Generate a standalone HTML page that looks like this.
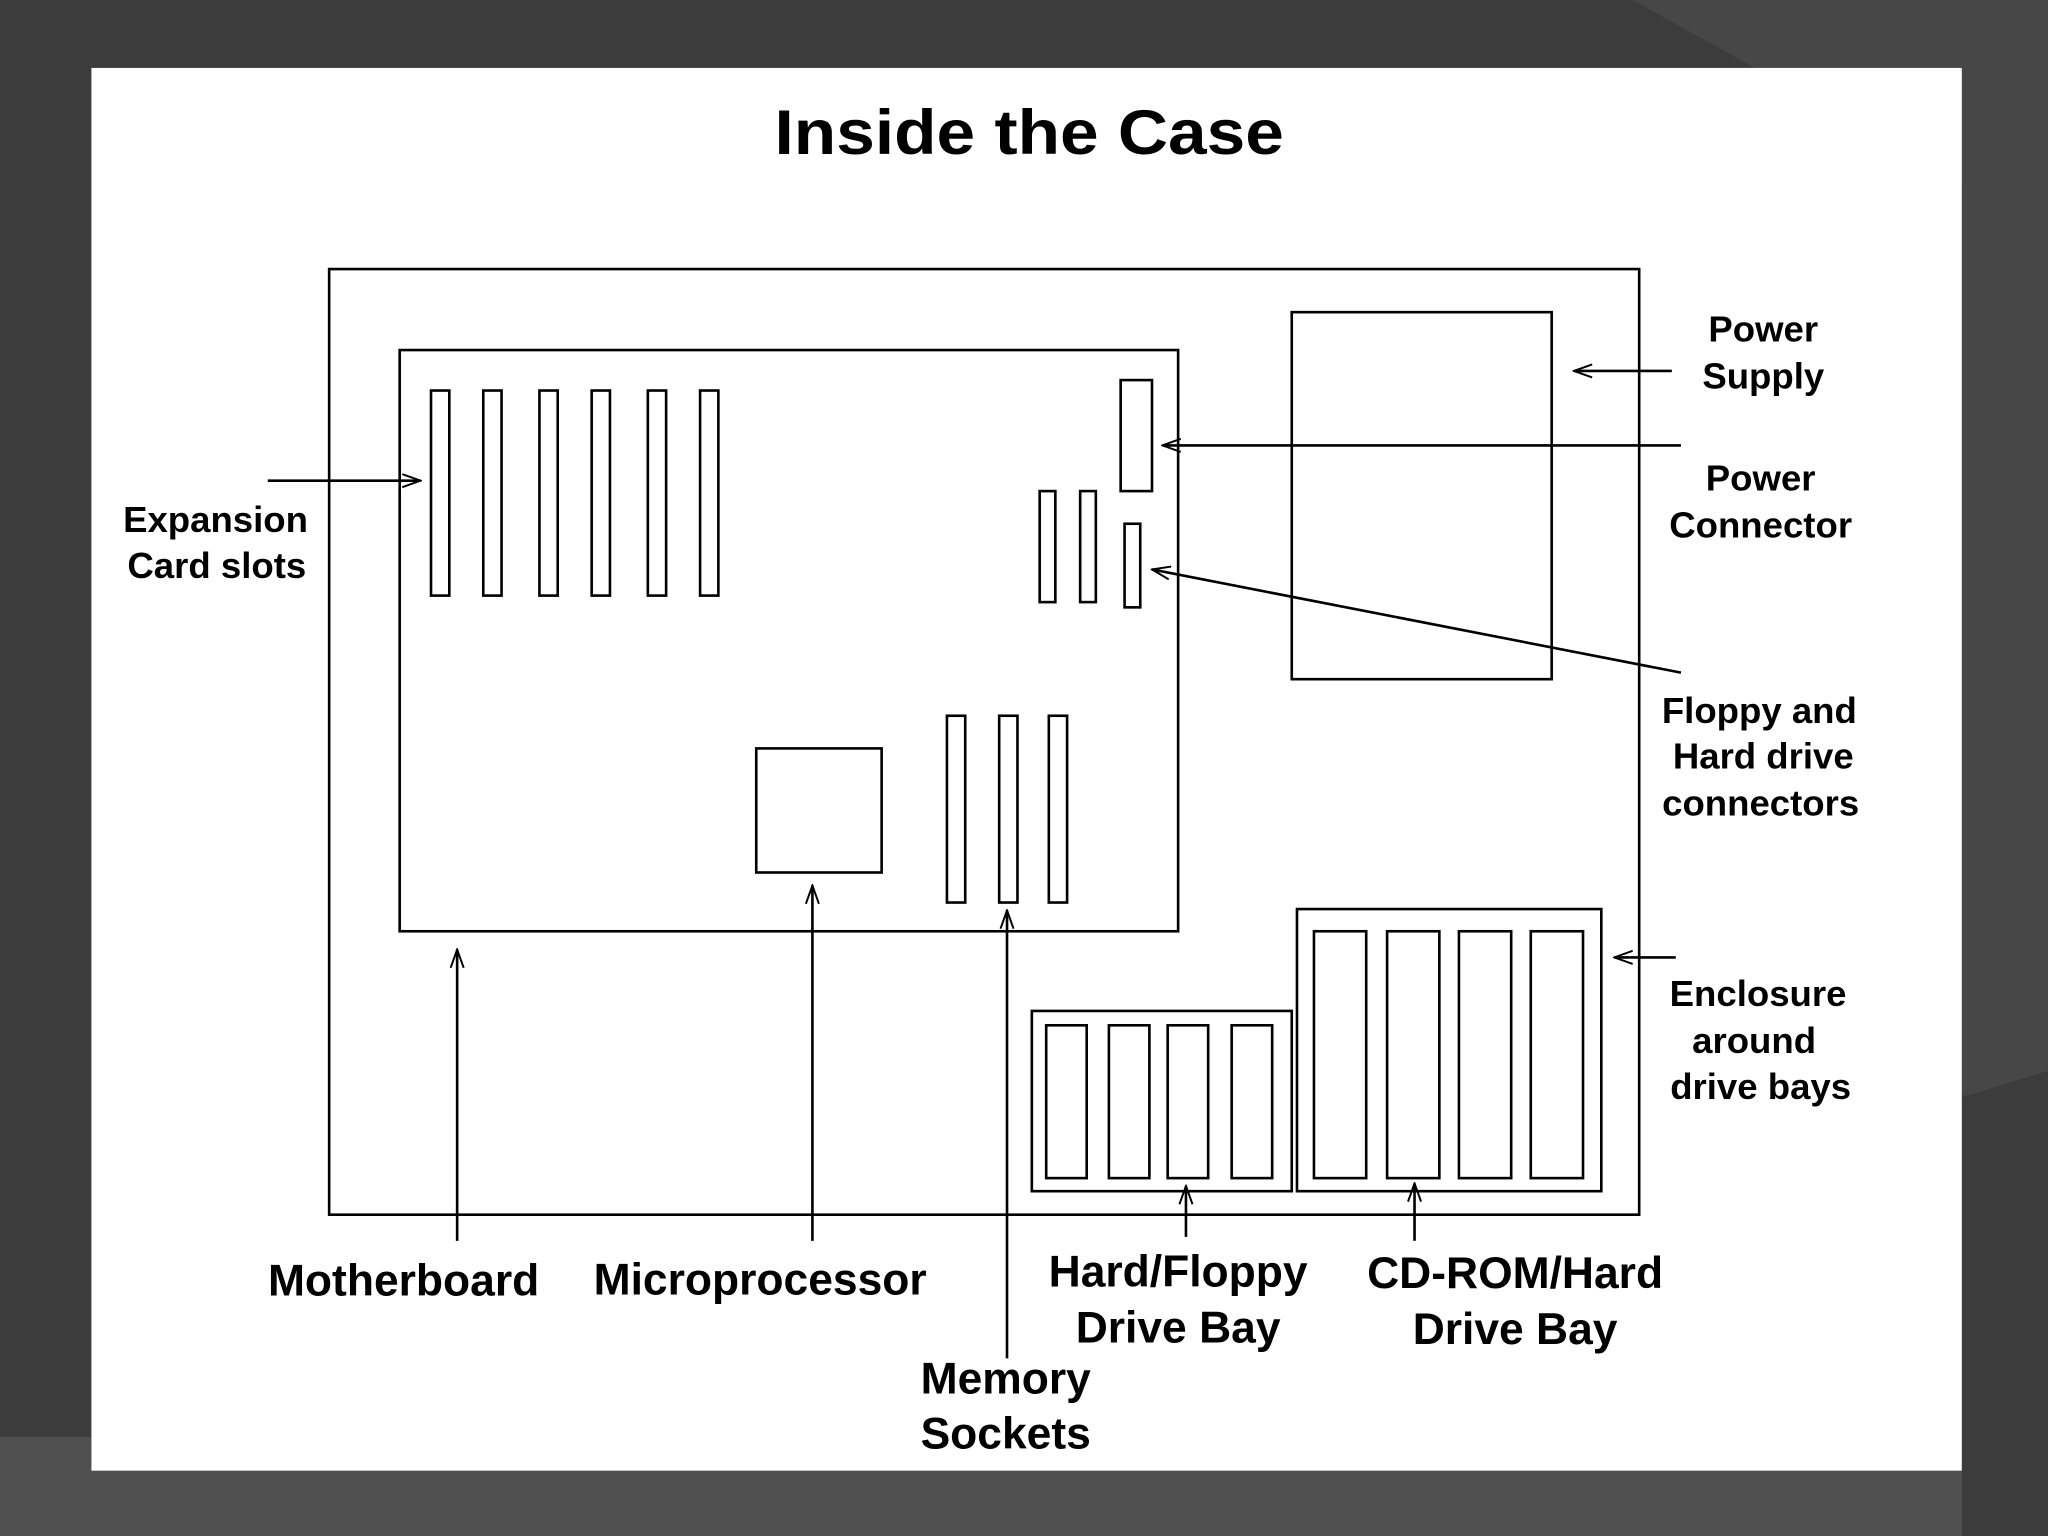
<!DOCTYPE html>
<html><head><meta charset="utf-8"><style>
html,body{margin:0;padding:0;background:#3b3b3b;}
svg{display:block;}
text{font-family:"Liberation Sans",Arial,sans-serif;font-weight:bold;fill:#000;}
</style></head><body>
<svg width="2048" height="1536" viewBox="0 0 1568 1176" preserveAspectRatio="none" xmlns="http://www.w3.org/2000/svg">
<defs>
<marker id="a" markerWidth="16" markerHeight="12" refX="15" refY="6" orient="auto" markerUnits="userSpaceOnUse">
<path d="M1,1 L15,6 L1,11" fill="none" stroke="#000" stroke-width="1.5"/>
</marker>
</defs>
<rect width="1568" height="1176" fill="#3c3c3c"/>
<polygon points="1250,0 1568,0 1568,820 1502,840 1502,140" fill="#474747"/>
<polygon points="0,1100 70,1100 70,1126 1502,1126 1502,1176 0,1176" fill="#505050"/>
<rect x="70" y="52" width="1432" height="1074" fill="#fff"/>
<text x="788" y="118" font-size="48" text-anchor="middle" textLength="390" lengthAdjust="spacingAndGlyphs">Inside the Case</text>
<g fill="none" stroke="#000" stroke-width="2">
<rect x="252" y="206" width="1003" height="724"/>
<rect x="306" y="268" width="596" height="445"/>
<rect x="330" y="299" width="14" height="157"/>
<rect x="370" y="299" width="14" height="157"/>
<rect x="413" y="299" width="14" height="157"/>
<rect x="453" y="299" width="14" height="157"/>
<rect x="496" y="299" width="14" height="157"/>
<rect x="536" y="299" width="14" height="157"/>
<rect x="858" y="291" width="24" height="85"/>
<rect x="796" y="376" width="12" height="85"/>
<rect x="827" y="376" width="12" height="85"/>
<rect x="861" y="401" width="12" height="64"/>
<rect x="579" y="573" width="96" height="95"/>
<rect x="725" y="548" width="14" height="143"/>
<rect x="765" y="548" width="14" height="143"/>
<rect x="803" y="548" width="14" height="143"/>
<rect x="989" y="239" width="199" height="281"/>
<rect x="790" y="774" width="199" height="138"/>
<rect x="801" y="785" width="31" height="117"/>
<rect x="849" y="785" width="31" height="117"/>
<rect x="894" y="785" width="31" height="117"/>
<rect x="943" y="785" width="31" height="117"/>
<rect x="993" y="696" width="233" height="216"/>
<rect x="1006" y="713" width="40" height="189"/>
<rect x="1062" y="713" width="40" height="189"/>
<rect x="1117" y="713" width="40" height="189"/>
<rect x="1172" y="713" width="40" height="189"/>
</g>
<g stroke="#000" stroke-width="2" marker-end="url(#a)">
<line x1="205" y1="368" x2="322" y2="368"/>
<line x1="1280" y1="284" x2="1205" y2="284"/>
<line x1="1287" y1="341" x2="890" y2="341"/>
<line x1="1287" y1="515" x2="882" y2="436"/>
<line x1="1283" y1="733" x2="1236" y2="733"/>
<line x1="350" y1="950" x2="350" y2="727"/>
<line x1="622" y1="950" x2="622" y2="678"/>
<line x1="771" y1="1040" x2="771" y2="697"/>
<line x1="908" y1="947" x2="908" y2="908"/>
<line x1="1083" y1="950" x2="1083" y2="906"/>
</g>
<g font-size="28" text-anchor="middle" dominant-baseline="middle">
<text x="165" y="400">Expansion</text>
<text x="166" y="435">Card slots</text>
<text x="1350" y="254">Power</text>
<text x="1350" y="290">Supply</text>
<text x="1348" y="368">Power</text>
<text x="1348" y="404">Connector</text>
<text x="1347" y="546">Floppy and</text>
<text x="1350" y="581">Hard drive</text>
<text x="1348" y="617">connectors</text>
<text x="1346" y="763">Enclosure</text>
<text x="1343" y="799">around</text>
<text x="1348" y="834">drive bays</text>
</g>
<g font-size="34" text-anchor="middle" dominant-baseline="middle">
<text x="309" y="983">Motherboard</text>
<text x="582" y="982">Microprocessor</text>
<text x="902" y="976">Hard/Floppy</text>
<text x="902" y="1019">Drive Bay</text>
<text x="1160" y="977">CD-ROM/Hard</text>
<text x="1160" y="1020">Drive Bay</text>
<text x="770" y="1058">Memory</text>
<text x="770" y="1100">Sockets</text>
</g>
</svg>
</body></html>
